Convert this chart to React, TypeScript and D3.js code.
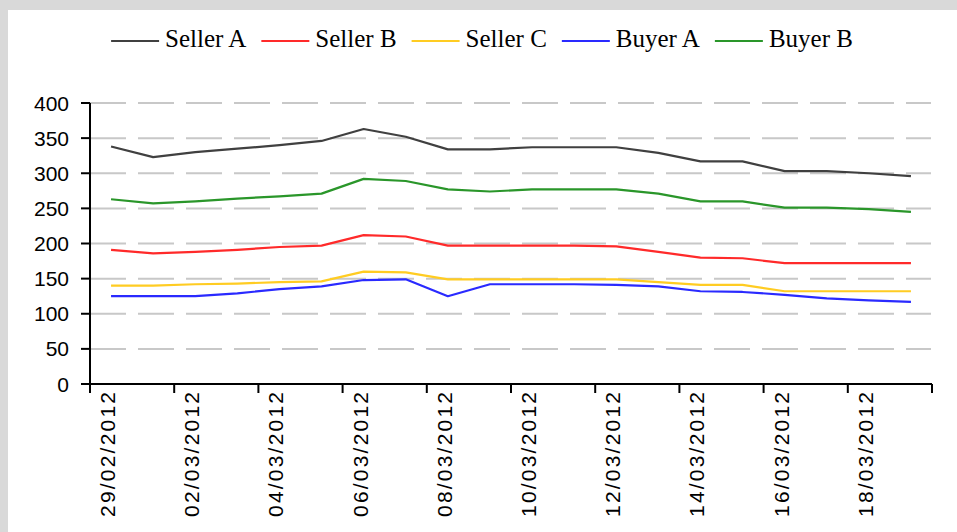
import React, { useEffect, useRef } from "react";
import * as d3 from "d3";

const dates = [
  "29/02/2012", "01/03/2012", "02/03/2012", "03/03/2012", "04/03/2012",
  "05/03/2012", "06/03/2012", "07/03/2012", "08/03/2012", "09/03/2012",
  "10/03/2012", "11/03/2012", "12/03/2012", "13/03/2012", "14/03/2012",
  "15/03/2012", "16/03/2012", "17/03/2012", "18/03/2012", "19/03/2012",
];

const sellerA = [338, 323, 330, 335, 340, 346, 363, 352, 334, 334, 337, 337, 337, 329, 317, 317, 303, 303, 300, 296];
const sellerB = [191, 186, 188, 191, 195, 197, 212, 210, 197, 197, 197, 197, 196, 188, 180, 179, 172, 172, 172, 172];
const sellerC = [140, 140, 142, 143, 145, 146, 160, 159, 149, 149, 149, 149, 149, 145, 141, 141, 132, 132, 132, 132];
const buyerA = [125, 125, 125, 129, 135, 139, 148, 149, 125, 142, 142, 142, 141, 139, 132, 131, 127, 122, 119, 117];
const buyerB = [263, 257, 260, 264, 267, 271, 292, 289, 277, 274, 277, 277, 277, 271, 260, 260, 251, 251, 249, 245];

const seriesNames = ["Seller A", "Seller B", "Seller C", "Buyer A", "Buyer B"];
const seriesValues = [sellerA, sellerB, sellerC, buyerA, buyerB];
const seriesColors = ["#404040", "#ff2a2a", "#ffcc22", "#2a2aff", "#2a962a"];

const yTicks = [0, 50, 100, 150, 200, 250, 300, 350, 400];

const W = 957;
const H = 532;

export default function App() {
  const ref = useRef<SVGSVGElement | null>(null);

  useEffect(() => {
    const svg = d3.select(ref.current);
    svg.selectAll("*").remove();

    // background
    svg.append("rect").attr("x", 0).attr("y", 0).attr("width", W).attr("height", H).attr("fill", "#d9d9d9");
    svg.append("rect").attr("x", 8).attr("y", 10).attr("width", W - 8).attr("height", H - 10).attr("fill", "#ffffff");

    const left = 90, right = 932, top = 103, bottom = 384;
    const xBand = d3.scaleBand<string>().domain(dates).range([left, right]).paddingInner(0).paddingOuter(0);
    const xPt = d3.scalePoint<string>().domain(dates).range([left, right]).padding(0.5);
    const y = d3.scaleLinear().domain([0, 400]).range([bottom, top]);

    // gridlines
    const g = svg.append("g");
    g.selectAll("line.grid")
      .data(yTicks.filter((t) => t > 0))
      .join("line")
      .attr("x1", left)
      .attr("x2", right - 1)
      .attr("y1", (d) => y(d))
      .attr("y2", (d) => y(d))
      .attr("stroke", "#c8c8c8")
      .attr("stroke-width", 2)
      .attr("stroke-dasharray", "36 12");

    // lines
    const line = d3.line<number>()
      .x((_, i) => xPt(dates[i]) as number)
      .y((d) => y(d));
    seriesValues.forEach((vals, si) => {
      svg.append("path")
        .attr("d", line(vals) as string)
        .attr("fill", "none")
        .attr("stroke", seriesColors[si])
        .attr("stroke-width", 2.2)
        .attr("stroke-linejoin", "round");
    });

    // axes
    const axisColor = "#000";
    svg.append("line").attr("x1", left).attr("x2", left).attr("y1", top).attr("y2", bottom + 8)
      .attr("stroke", axisColor).attr("stroke-width", 2);
    svg.append("line").attr("x1", left - 9).attr("x2", right).attr("y1", bottom).attr("y2", bottom)
      .attr("stroke", axisColor).attr("stroke-width", 2);

    // y ticks + labels
    yTicks.forEach((t) => {
      svg.append("line").attr("x1", left - 9).attr("x2", left).attr("y1", y(t)).attr("y2", y(t))
        .attr("stroke", axisColor).attr("stroke-width", 2);
      svg.append("text")
        .attr("x", 69)
        .attr("y", y(t))
        .attr("text-anchor", "end")
        .attr("dominant-baseline", "central")
        .attr("font-family", "'Liberation Sans', Arial, sans-serif")
        .attr("font-size", 21)
        .attr("fill", "#000")
        .text(String(t));
    });

    // x ticks (every 2 categories, at boundaries)
    const tickXs: number[] = [];
    dates.forEach((d, i) => { if (i % 2 === 0) tickXs.push(xBand(d) as number); });
    tickXs.push(right);
    tickXs.forEach((tx) => {
      svg.append("line").attr("x1", tx).attr("x2", tx).attr("y1", bottom).attr("y2", bottom + 9)
        .attr("stroke", axisColor).attr("stroke-width", 2);
    });

    // x labels
    dates.forEach((d, i) => {
      if (i % 2 !== 0) return;
      const cx = (xPt(d) as number) - 3.5;
      const ty = 392;
      svg.append("text")
        .attr("transform", `translate(${cx},${ty}) rotate(-90)`)
        .attr("text-anchor", "end")
        .attr("dominant-baseline", "central")
        .attr("font-family", "'Liberation Sans', Arial, sans-serif")
        .attr("font-size", 21)
        .attr("textLength", 125)
        .attr("lengthAdjust", "spacing")
        .attr("fill", "#000")
        .text(d);
    });

    // legend
    const lg = svg.append("g");
    let cursor = 0;
    const ly = 41;
    seriesNames.forEach((name, si) => {
      lg.append("line").attr("x1", cursor).attr("x2", cursor + 48).attr("y1", ly).attr("y2", ly)
        .attr("stroke", seriesColors[si]).attr("stroke-width", 2.2);
      const t = lg.append("text")
        .attr("x", cursor + 54)
        .attr("y", 47)
        .attr("font-family", "'Liberation Serif', 'Times New Roman', serif")
        .attr("font-size", 25)
        .attr("fill", "#000")
        .text(name);
      const w = (t.node() as SVGTextElement).getComputedTextLength();
      cursor += 54 + w + 15;
    });
    const total = cursor - 15;
    lg.attr("transform", `translate(${482 - total / 2},0)`);
  }, []);

  return (
    <svg ref={ref} width={W} height={H} style={{ display: "block", position: "absolute", left: 0, top: 0 }} />
  );
}
